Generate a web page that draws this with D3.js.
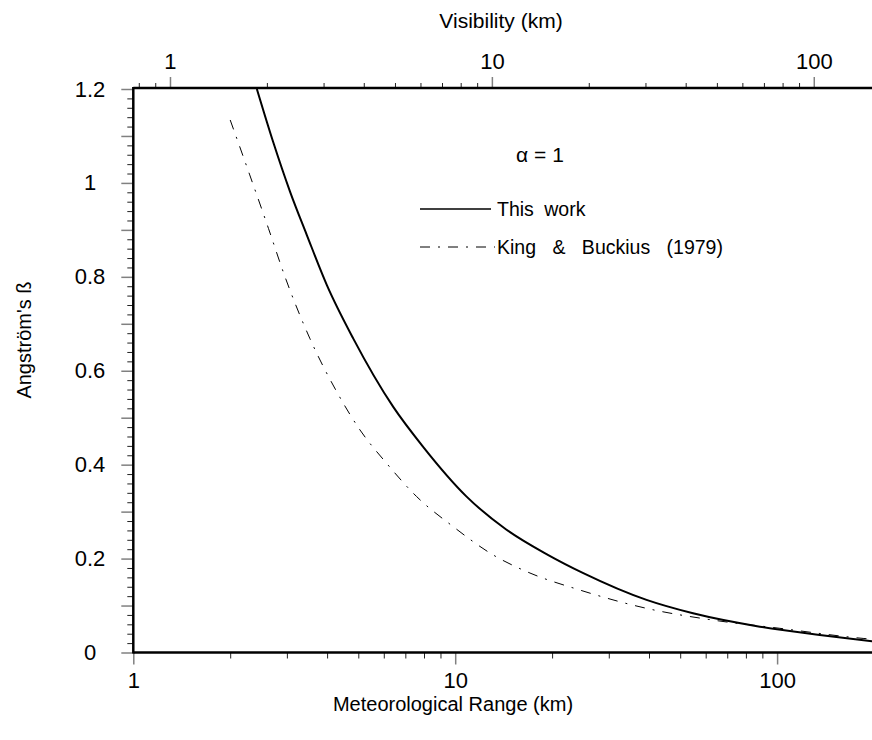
<!DOCTYPE html>
<html>
<head>
<meta charset="utf-8">
<script src="https://cdn.jsdelivr.net/npm/d3@7"></script>
<style>
  body { margin: 0; background: #fff; }
  text { font-family: "Liberation Sans", Arial, sans-serif; fill: #000; }
</style>
</head>
<body>
<div class="chart"></div>
<script>
var svgWidth = 872;
var svgHeight = 740;

// This work (meteorological range km, beta)
var workRange = [2.42, 2.72, 3.07, 3.46, 3.99, 4.82, 6.42, 7.95, 10.85, 14.4, 19.4, 25.0, 39.3, 54.8, 88.4, 135.7, 200];
var workBeta = [1.2, 1.087, 0.981, 0.889, 0.783, 0.669, 0.523, 0.438, 0.332, 0.262, 0.208, 0.169, 0.112, 0.0835, 0.055, 0.0373, 0.0235];

// King & Buckius (1979)
var kingRange = [2.0, 2.30, 2.63, 2.96, 3.54, 4.28, 5.06, 6.12, 7.59, 9.86, 13.1, 16.7, 24.4, 39.3, 63.3, 102, 185, 200];
var kingBeta = [1.134, 1.017, 0.903, 0.800, 0.668, 0.556, 0.474, 0.403, 0.332, 0.268, 0.208, 0.172, 0.133, 0.094, 0.069, 0.0515, 0.030, 0.028];

var rangeTicks = [1, 10, 100];
var rangeMinor = [2, 3, 4, 5, 6, 7, 8, 9, 20, 30, 40, 50, 60, 70, 80, 90];
var visTicks = [1, 10, 100];
var visMinor = [0.8, 0.9, 2, 3, 4, 5, 6, 7, 8, 9, 20, 30, 40, 50, 60, 70, 80, 90];
var betaTicks = [0, 0.2, 0.4, 0.6, 0.8, 1, 1.2];
var betaMid = [0.1, 0.3, 0.5, 0.7, 0.9, 1.1];
var betaMinor = d3.range(0, 61).map(d => d / 50).filter(d => Math.round(d * 50) % 5 !== 0);

var visRatio = 1.3;

var plotLeft = 133.3, plotRight = 874, plotTop = 89, plotBottom = 652.5;

var svg = d3.select(".chart")
  .append("svg")
  .attr("width", svgWidth)
  .attr("height", svgHeight);

var xScale = d3.scaleLog().domain([1, 200]).range([plotLeft, plotRight]);
var xTop = d3.scaleLog().domain([1 / visRatio, 200 / visRatio]).range([plotLeft, plotRight]);
var yScale = d3.scaleLinear().domain([0, 1.2]).range([plotBottom, plotTop]);

function fmt(d) { return d3.format("")(d); }

// bottom axis
var bottomMajor = svg.append("g")
  .attr("transform", `translate(0, ${plotBottom})`)
  .call(d3.axisBottom(xScale).tickValues(rangeTicks).tickFormat(fmt).tickSize(12).tickSizeOuter(0).tickPadding(8));
var bottomMinor = svg.append("g")
  .attr("transform", `translate(0, ${plotBottom})`)
  .call(d3.axisBottom(xScale).tickValues(rangeMinor).tickFormat("").tickSize(6).tickSizeOuter(0));

// top axis (visibility)
var topMajor = svg.append("g")
  .attr("transform", `translate(0, ${plotTop})`)
  .call(d3.axisTop(xTop).tickValues(visTicks).tickFormat(fmt).tickSize(12).tickSizeOuter(0).tickPadding(8));
var topMinor = svg.append("g")
  .attr("transform", `translate(0, ${plotTop})`)
  .call(d3.axisTop(xTop).tickValues(visMinor).tickFormat("").tickSize(6).tickSizeOuter(0));

// left axis
var leftMajor = svg.append("g")
  .attr("transform", `translate(${plotLeft}, 0)`)
  .call(d3.axisLeft(yScale).tickValues(betaTicks).tickFormat(fmt).tickSize(12).tickSizeOuter(0));
var leftMid = svg.append("g")
  .attr("transform", `translate(${plotLeft}, 0)`)
  .call(d3.axisLeft(yScale).tickValues(betaMid).tickFormat("").tickSize(12).tickSizeOuter(0));
var leftMinor = svg.append("g")
  .attr("transform", `translate(${plotLeft}, 0)`)
  .call(d3.axisLeft(yScale).tickValues(betaMinor).tickFormat("").tickSize(6).tickSizeOuter(0));

// style ticks
svg.selectAll(".domain").remove();
[bottomMajor, topMajor, leftMajor, leftMid].forEach(function(g) {
  g.selectAll("line").attr("stroke", "#808080").attr("stroke-width", 1.5);
});
[bottomMinor, topMinor, leftMinor].forEach(function(g) {
  g.selectAll("line").attr("stroke", "#222").attr("stroke-width", 1);
});
svg.selectAll(".tick text")
  .attr("font-size", 22)
  .attr("font-family", "Liberation Sans, Arial, sans-serif")
  .attr("fill", "#000");
leftMajor.selectAll("text")
  .attr("text-anchor", "middle")
  .attr("x", 90 - plotLeft);

// axis lines
svg.append("line").attr("x1", plotLeft).attr("x2", svgWidth).attr("y1", plotBottom).attr("y2", plotBottom)
  .attr("stroke", "#000").attr("stroke-width", 2.5);
svg.append("line").attr("x1", plotLeft).attr("x2", svgWidth).attr("y1", plotTop - 1).attr("y2", plotTop - 1)
  .attr("stroke", "#000").attr("stroke-width", 2.5);
svg.append("line").attr("x1", plotLeft).attr("x2", plotLeft).attr("y1", plotTop - 2).attr("y2", plotBottom + 1)
  .attr("stroke", "#000").attr("stroke-width", 2.5);

// clip for curves
svg.append("clipPath").attr("id", "plot")
  .append("rect").attr("x", plotLeft).attr("y", plotTop).attr("width", svgWidth - plotLeft).attr("height", plotBottom - plotTop);

var line = d3.line()
  .x(d => xScale(d[0]))
  .y(d => yScale(d[1]))
  .curve(d3.curveMonotoneX);

var workData = workRange.map((d, i) => [d, workBeta[i]]);
var kingData = kingRange.map((d, i) => [d, kingBeta[i]]);

var curves = svg.append("g").attr("clip-path", "url(#plot)");
curves.append("path")
  .datum(workData)
  .attr("d", line)
  .attr("fill", "none")
  .attr("stroke", "#000")
  .attr("stroke-width", 2);
curves.append("path")
  .datum(kingData)
  .attr("d", line)
  .attr("fill", "none")
  .attr("stroke", "#000")
  .attr("stroke-width", 1)
  .attr("stroke-dasharray", "10,8,2,8");

// legend
svg.append("text").attr("x", 540).attr("y", 162).attr("text-anchor", "middle")
  .attr("font-size", 21).text("\u03b1 = 1");
svg.append("line").attr("x1", 420).attr("x2", 491).attr("y1", 209).attr("y2", 209)
  .attr("stroke", "#000").attr("stroke-width", 1.5);
svg.append("text").attr("x", 497).attr("y", 216).attr("font-size", 19.5)
  .attr("word-spacing", 5).text("This work");
svg.append("line").attr("x1", 420).attr("x2", 495).attr("y1", 247).attr("y2", 247)
  .attr("stroke", "#000").attr("stroke-width", 1).attr("stroke-dasharray", "10,8,2,8");
svg.append("text").attr("x", 497).attr("y", 254).attr("font-size", 19.5)
  .attr("word-spacing", 11).text("King & Buckius (1979)");

// axis titles
svg.append("text").attr("x", 501).attr("y", 28).attr("text-anchor", "middle")
  .attr("font-size", 21).text("Visibility (km)");
svg.append("text").attr("x", 453).attr("y", 711).attr("text-anchor", "middle")
  .attr("font-size", 20).text("Meteorological Range (km)");
svg.append("text")
  .attr("transform", "translate(31, 340) rotate(-90)")
  .attr("text-anchor", "middle")
  .attr("font-size", 20).text("Angstr\u00f6m's \u00df");
</script>
</body>
</html>
